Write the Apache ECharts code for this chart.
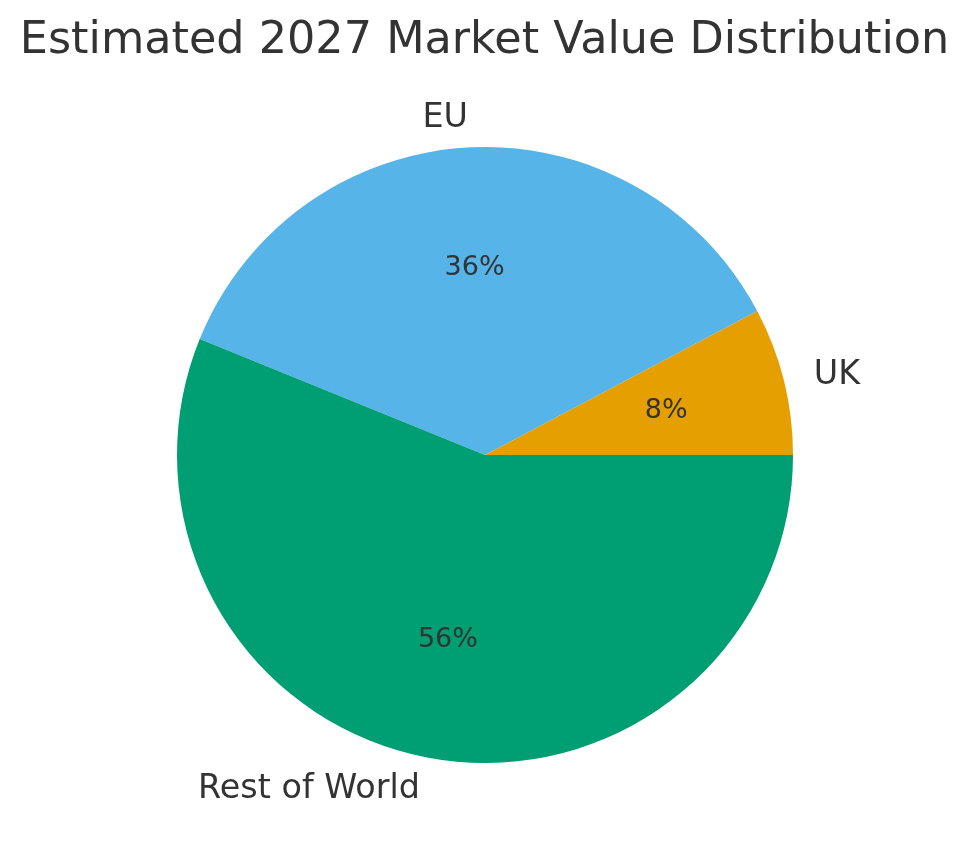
<!DOCTYPE html>
<html>
<head>
<meta charset="utf-8">
<script src="https://cdn.jsdelivr.net/npm/echarts@6/dist/echarts.min.js"></script>
<style>
  html, body { margin: 0; padding: 0; background: #fff; }
  #main { width: 969px; height: 860px; }
</style>
</head>
<body>
<div id="main"></div>
<script>
// slice names and values (in percent)
var regions = ['UK', 'EU', 'Rest of World'];
var shares = [7.75, 36.1, 56.15];
var colors = ['#E69F00', '#56B4E9', '#009E73'];

var R = 308;

function pie_data(transparent) {
	var out = [];
	for (var i = 0; i < regions.length; i++) {
		out.push({
			name: regions[i],
			value: shares[i],
			itemStyle: { color: transparent ? 'rgba(0,0,0,0)' : colors[i] }
		});
	}
	return out;
}

var dom = document.getElementById('main');
var myChart = echarts.init(dom);
var option = {
	backgroundColor: '#ffffff',
	animation: false,
	title: {
		text: 'Estimated 2027 Market Value Distribution',
		left: 'center',
		top: 14,
		textStyle: {
			color: '#333333',
			fontFamily: 'DejaVu Sans',
			fontSize: 44.5,
			fontWeight: 'normal'
		}
	},
	series: [
		{
			// slices with the names outside
			type: 'pie',
			center: [485, 455],
			radius: [0, R],
			startAngle: 0,
			clockwise: false,
			avoidLabelOverlap: false,
			silent: true,
			data: pie_data(false),
			label: {
				show: true,
				position: 'outside',
				distanceToLabelLine: 0,
				color: '#333333',
				fontFamily: 'DejaVu Sans',
				fontSize: 33.4,
				offset: [0, 2],
				formatter: '{b}'
			},
			labelLine: { show: false, length: R * 0.1, length2: 0 }
		},
		{
			// transparent copy, only to put the percent at 0.6 of the radius
			type: 'pie',
			center: [485, 455],
			radius: [R * 0.2, R],
			startAngle: 0,
			clockwise: false,
			avoidLabelOverlap: false,
			silent: true,
			data: pie_data(true),
			label: {
				show: true,
				position: 'inside',
				color: '#333333',
				fontFamily: 'DejaVu Sans',
				fontSize: 27,
				offset: [-1, 1],
				formatter: function (p) { return Math.round(p.percent) + '%'; }
			},
			labelLine: { show: false }
		}
	]
};
myChart.setOption(option, true);
</script>
</body>
</html>
